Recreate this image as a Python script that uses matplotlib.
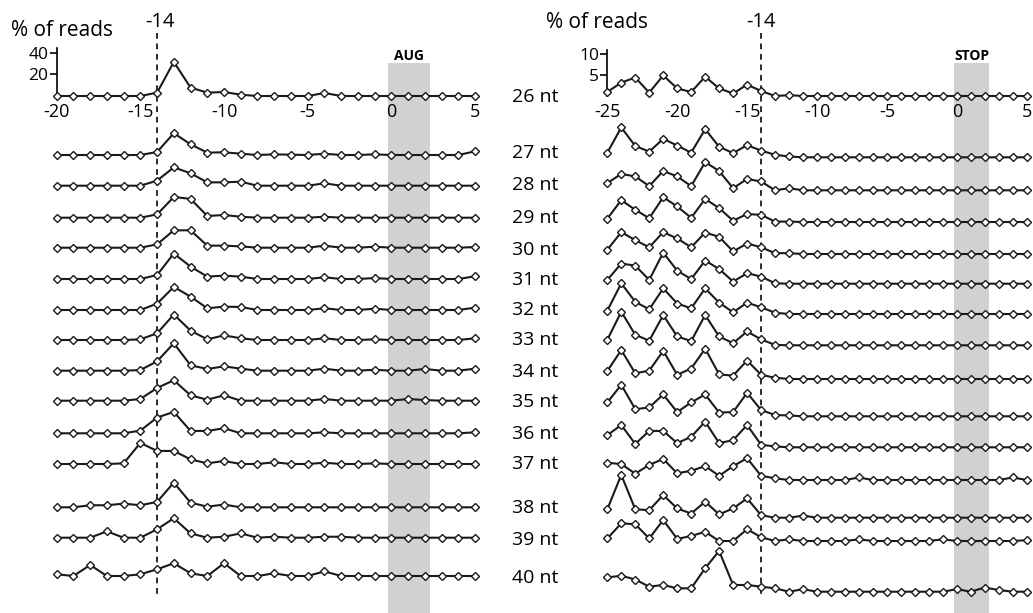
import numpy as np
import matplotlib.pyplot as plt

plt.rcParams['font.family'] = ['Open Sans', 'DejaVu Sans']

# ---- data: % of reads per position, one row per read length ----
lengths = [26, 27, 28, 29, 30, 31, 32, 33, 34, 35, 36, 37, 38, 39, 40]

x_start = np.arange(-20, 6)      # left panel, around AUG
x_stop = np.arange(-25, 6)       # right panel, around STOP

start_rows = [
    [0, 0, 0, 0, 0, 0, 3.1, 31.6, 7.8, 3.1, 3.7, 1.2, 0, 0, 0, 0, 2.8, 0, 0, 0, 0, 0, 0, 0, 0, 0],
    [0, 0, 0, 0, 0, 0, 2.8, 20.2, 9.9, 2.2, 2.5, 1.2, 0, 0.6, 0.3, 0, 1.2, 0, 0, 0.6, 0, 0, 0, 0, 0, 3.4],
    [0, 0, 0, 0, 0, 0, 4.7, 17.0, 11.5, 3.1, 3.1, 3.7, 0, 0, 0, 0, 2.2, 0, 0, 0, 0, 0, 0, 0, 0, 0],
    [0, 0, 0, 0, 0, 0, 3.1, 19.2, 17.4, 1.6, 2.5, 0.9, 0, 0, 0, 0, 0.9, 0, 0, 0, 0, 0, 0, 0, 0, 0],
    [0, 0, 0, 0, 0, 0, 3.1, 16.1, 16.1, 1.9, 1.9, 1.2, 0, 0, 0, 0, 1.9, 0, 0, 0.9, 0, 0, 0, 0, 0, 0.6],
    [0, 0, 0, 0, 0, 0, 3.7, 23.6, 11.5, 2.2, 3.1, 2.2, 0, 0, 0, 0, 1.6, 0, 0, 0.9, 0, 0, 0, 0, 0, 2.5],
    [0, 0, 0, 0, 0, 0, 5.9, 21.4, 12.4, 1.6, 3.1, 2.8, 0, 0, 0, 0, 1.6, 0, 0, 1.2, 0, 0, 0, 0, 0, 2.2],
    [0, 0, 0, 0, 0, 0.6, 6.2, 23.6, 8.7, 0.6, 4.3, 1.6, 0, 0, 0, 0, 1.6, 0, 0, 0.6, 0, 0, 0, 0, 0, 1.6],
    [0, 0, 0, 0, 0, 0.6, 8.7, 25.4, 5.0, 1.6, 4.0, 1.9, 0, 0, 0, 0, 1.9, 0, 0, 0.9, 0, 0, 1.6, 0, 0, 1.9],
    [0, 0, 0, 0, 0, 1.6, 11.8, 18.9, 5.0, 0.9, 5.0, 0, 0, 0, 0, 0, 1.6, 0, 0, 0, 0, 1.6, 0.6, 0, 0, 0],
    [0, 0, 0, 0, 0, 2.5, 14.6, 19.8, 2.2, 2.2, 4.7, 0, 0, 0, 0, 0, 0.9, 0, 0, 0, 0, 0, 0, 0, 0, 0.9],
    [0, 0, 0, 0, 0.6, 19.5, 12.1, 12.1, 4.3, 0.6, 2.8, 0, 0, 1.6, 0, 0, 1.2, 0, 0, 0.6, 0, 0, 0, 0, 0, 0],
    [0, 0, 1.9, 1.9, 3.4, 1.9, 5.0, 22.9, 4.3, 0.6, 2.5, 0, 0, 0, 0, 0, 0, 0, 0, 0, 0, 0, 0, 0, 0, 0],
    [0, 0, 0, 5.9, 0, 0, 7.8, 18.0, 4.0, 0, 0.9, 4.0, 0, 0.9, 0, 0, 0.9, 0.9, 0, 0, 0, 0, 0, 0, 0, 0],
    [1.6, 0, 10.2, 0, 0, 1.6, 6.2, 11.8, 2.5, 0, 11.8, 0, 0, 2.5, 0, 0, 4.3, 0, 0, 0, 0, 0, 0, 0, 0, 0],
]

z17 = [0] * 17
stop_rows = [
    [0.95, 3.2, 4.4, 0.8, 4.9, 1.8, 0.95, 4.6, 1.8, 0.6, 2.7, 1.2, 0, 0.2] + z17,
    [1.1, 7.1, 2.7, 1.35, 4.4, 2.8, 1.1, 6.7, 2.5, 1.0, 2.9, 1.6, 0.6, 0.2] + z17,
    [1.7, 3.9, 3.3, 1.0, 4.6, 3.3, 1.0, 6.7, 4.6, 0.5, 2.7, 2.1, 0, 0.5] + z17,
    [0.8, 5.2, 2.9, 0.9, 5.9, 3.7, 1.0, 5.5, 3.3, 0.3, 1.9, 1.7, 0.1, 0.1] + z17,
    [1.0, 5.2, 3.3, 1.6, 5.2, 3.7, 1.6, 5.1, 4.1, 0.6, 2.5, 1.6, 0.2, 0.2] + z17,
    [0.9, 4.8, 4.3, 0.9, 7.4, 3.1, 1.1, 5.5, 3.5, 0.5, 2.5, 1.7, 0.1, 0] + z17,
    [0.8, 7.3, 2.9, 1.1, 6.1, 2.5, 1.35, 6.1, 2.7, 0.4, 2.7, 1.6, 0.3, 0] + z17,
    [1.3, 8.0, 2.5, 1.1, 7.2, 2.1, 1.0, 7.2, 2.1, 0.5, 3.3, 1.4, 0.1, 0] + z17,
    [1.9, 6.9, 1.35, 2.0, 6.7, 1.0, 2.5, 7.2, 1.1, 0.8, 4.4, 1.0, 0.3, 0] + z17,
    [3.3, 7.5, 1.7, 2.1, 5.2, 1.0, 3.3, 5.2, 0.9, 1.0, 5.6, 1.5, 0.3, 0.2] + z17,
    [2.9, 5.3, 0.8, 3.9, 3.9, 1.0, 2.5, 6.1, 1.0, 1.7, 5.3, 0.6, 0.2, 0] + z17,
    [4.1, 3.8, 1.5, 3.6, 5.0, 1.6, 2.2, 3.3, 1.0, 3.3, 5.2, 1.0, 0.4, 0,
     0, 0, 0, 0, 0.6, 0, 0, 0, 0, 0, 0, 0, 0, 0, 0, 0.6, 0],
    [2.0, 10.2, 2.0, 1.8, 5.4, 2.2, 1.0, 3.8, 0.8, 2.2, 4.6, 0.6, 0, 0, 0.5] + [0] * 16,
    [0.6, 4.2, 4.0, 0.6, 5.0, 0.5, 1.2, 2.2, 0, 0, 2.8, 0.9, 0, 0.4,
     0, 0, 0, 0, 0.4, 0, 0, 0, 0, 0, 0.4, 0, 0, 0, 0, 0, 0.2],
    [3.4, 3.8, 2.9, 1.2, 1.6, 0.8, 0.8, 5.6, 9.7, 1.6, 1.6, 1.2, 0.8, 0, 0.6,
     0, 0, 0, 0, 0, 0, 0, 0, 0, 0, 0.6, 0, 1.0, 0.4, 0, 0],
]

# ---- layout (pixels in a 1033 x 613 image) ----
W, H = 1033, 613
Y0 = 96                                    # baseline of the top (26 nt) row
start_base = [155, 185.7, 217.7, 247.7, 279, 310, 340, 370.7, 400.7, 433.3, 464, 507.3, 537.7, 576]
stop_base = [157.3, 190.3, 222, 254, 283.7, 314, 345.3, 379, 416.3, 447.3, 480, 517.7, 541, 591.7]
label_y = [97, 153, 184.7, 218, 249.7, 279.7, 309.7, 339.7, 372.3, 402.3, 433.7, 463.7, 508, 539.7, 578]

line_kw = dict(color='#1a1a1a', lw=1.5, marker='D', ms=4.2, mfc='white',
               mec='#1a1a1a', mew=1.0, clip_on=False, zorder=3)


def box(x0, x1, ytop, ybot):
    return [x0 / W, 1 - ybot / H, (x1 - x0) / W, (ybot - ytop) / H]


fig = plt.figure(figsize=(W / 100, H / 100), dpi=100)

panels = [
    # x values, rows, row baselines, left px, right px, px per %, y top, y ticks, band label
    (x_start, start_rows, start_base, 56.7, 475.0, 1.08, 44.4, [20, 40], 'AUG', (62, 30), (160, 22)),
    (x_stop, stop_rows, stop_base, 607.3, 1026.7, 4.2, 11.0, [5, 10], 'STOP', (597, 22), (761, 22)),
]

for xs, rows, base, px0, px1, s, ytop, yt, band_lab, lab_pos, m14_pos in panels:
    xlim = (xs[0], xs[-1])
    to_y = lambda p: (Y0 - p) / s

    # background axes: band, dashed -14 line, rows 27-40
    ax = fig.add_axes(box(px0, px1, 0, H))
    ax.set_xlim(*xlim)
    ax.set_ylim(to_y(H), to_y(0))
    ax.axis('off')
    ax.fill_between([-0.2, 2.3], to_y(H), to_y(63), color='#d0d1d3', lw=0, zorder=0)
    ax.plot([-14, -14], [to_y(33), to_y(598)], color='#1a1a1a', lw=1.3,
            ls=(0, (3.2, 2.6)), zorder=2)
    for r, b in zip(rows[1:], base):
        ax.plot(xs, np.array(r) + to_y(b), **line_kw)
    ax.text(1.05, to_y(56), band_lab, ha='center', va='center',
            fontsize=10, fontweight='bold')

    # top row with its own axis
    ta = fig.add_axes(box(px0, px1, Y0 - ytop * s, Y0))
    ta.patch.set_alpha(0)
    ta.set_xlim(*xlim)
    ta.set_ylim(0, ytop)
    for sp in ['top', 'right', 'bottom']:
        ta.spines[sp].set_visible(False)
    ta.spines['left'].set_linewidth(1.2)
    ta.set_yticks(yt)
    ta.set_xticks(np.arange(xs[0], 6, 5))
    ta.set_xticklabels([str(v) for v in np.arange(xs[0], 6, 5)])
    ta.tick_params(axis='y', length=5, width=1.2, pad=1, labelsize=12.5)
    ta.tick_params(axis='x', length=0, pad=5, labelsize=13)
    ta.plot(xs, rows[0], **line_kw)

    fig.text(lab_pos[0] / W, 1 - lab_pos[1] / H, '% of reads', ha='center',
             va='center', fontsize=15)
    fig.text(m14_pos[0] / W, 1 - m14_pos[1] / H, '-14', ha='center',
             va='center', fontsize=14.5)

for n, y in zip(lengths, label_y):
    fig.text(512 / W, 1 - y / H, f'{n} nt', ha='left', va='center', fontsize=14)

fig.savefig('out.png', dpi=100)
plt.close()
